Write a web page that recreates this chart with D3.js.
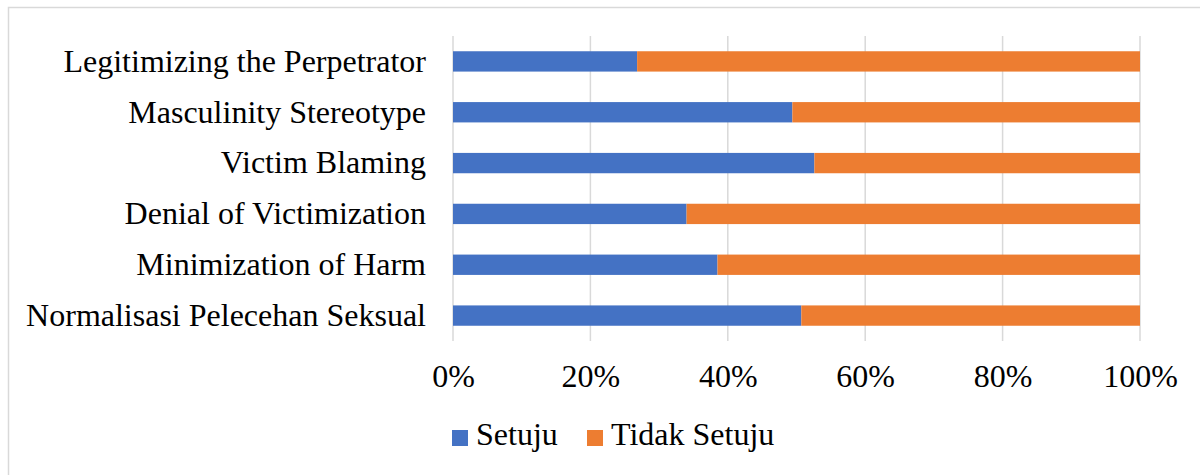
<!doctype html>
<html>
<head>
<script src="https://d3js.org/d3.v7.min.js"></script>
<style>
  body { margin: 0; background: #fff; }
  text { font-family: "Liberation Serif", "Times New Roman", serif; fill: #000; }
</style>
</head>
<body>
<svg width="1200" height="475"></svg>
<script>
var categories = ["Legitimizing the Perpetrator", "Masculinity Stereotype", "Victim Blaming",
                  "Denial of Victimization", "Minimization of Harm", "Normalisasi Pelecehan Seksual"];
var setuju = [26.8, 49.4, 52.6, 34.0, 38.5, 50.7];
var tidakSetuju = [73.2, 50.6, 47.4, 66.0, 61.5, 49.3];
var seriesNames = ["Setuju", "Tidak Setuju"];
var seriesColors = ["#4472c4", "#ed7d31"];
var tickValues = [0, 0.2, 0.4, 0.6, 0.8, 1];

var svg = d3.select("svg");

// chart frame (runs off right and bottom like the source)
svg.append("rect")
   .attr("x", 8.5).attr("y", 7.5)
   .attr("width", 1200).attr("height", 480)
   .attr("fill", "none").attr("stroke", "#d9d9d9").attr("stroke-width", 1.5);

var plotLeft = 453, plotRight = 1140, plotTop = 36, plotBottom = 341;

var x = d3.scaleLinear().domain([0, 1]).range([plotLeft, plotRight]);
var y = d3.scaleBand().domain(categories).range([plotTop, plotBottom]).paddingInner(0.6).paddingOuter(0.3);

var rows = categories.map(function(c, i) {
  var total = setuju[i] + tidakSetuju[i];
  return { cat: c, Setuju: setuju[i] / total, "Tidak Setuju": tidakSetuju[i] / total };
});
var stacked = d3.stack().keys(seriesNames)(rows);

// gridlines
svg.append("g")
   .selectAll("line")
   .data(tickValues)
   .join("line")
   .attr("x1", function(d) { return x(d); })
   .attr("x2", function(d) { return x(d); })
   .attr("y1", plotTop).attr("y2", plotBottom)
   .attr("stroke", "#d9d9d9").attr("stroke-width", 1.5);

// bars
svg.append("g")
   .selectAll("g")
   .data(stacked)
   .join("g")
   .attr("fill", function(d, i) { return seriesColors[i]; })
   .selectAll("rect")
   .data(function(d) { return d; })
   .join("rect")
   .attr("x", function(d) { return x(d[0]); })
   .attr("width", function(d) { return x(d[1]) - x(d[0]); })
   .attr("y", function(d) { return y(d.data.cat); })
   .attr("height", y.bandwidth());

// category labels
var yAxis = svg.append("g")
   .attr("transform", "translate(" + plotLeft + ",0)")
   .call(d3.axisLeft(y).tickSize(0).tickPadding(27));
yAxis.select(".domain").remove();
yAxis.selectAll("text")
   .style("font-family", "'Liberation Serif', serif")
   .style("font-size", "32px");

// x tick labels
var xAxis = svg.append("g")
   .attr("transform", "translate(0,380)")
   .call(d3.axisBottom(x).tickValues(tickValues).tickFormat(d3.format(".0%")).tickSize(0).tickPadding(0));
xAxis.select(".domain").remove();
xAxis.selectAll("text")
   .attr("dy", null)
   .attr("y", 0)
   .attr("dominant-baseline", "middle")
   .style("font-family", "'Liberation Serif', serif")
   .style("font-size", "32px");

// legend
var legendX = [452, 587];
var legend = svg.append("g")
   .selectAll("g")
   .data(seriesNames)
   .join("g")
   .attr("transform", function(d, i) { return "translate(" + legendX[i] + ",430)"; });
legend.append("rect")
   .attr("width", 16).attr("height", 16)
   .attr("fill", function(d, i) { return seriesColors[i]; });
legend.append("text")
   .attr("x", 24).attr("y", 8)
   .attr("dominant-baseline", "middle")
   .style("font-size", "32px")
   .text(function(d) { return d; });
</script>
</body>
</html>
